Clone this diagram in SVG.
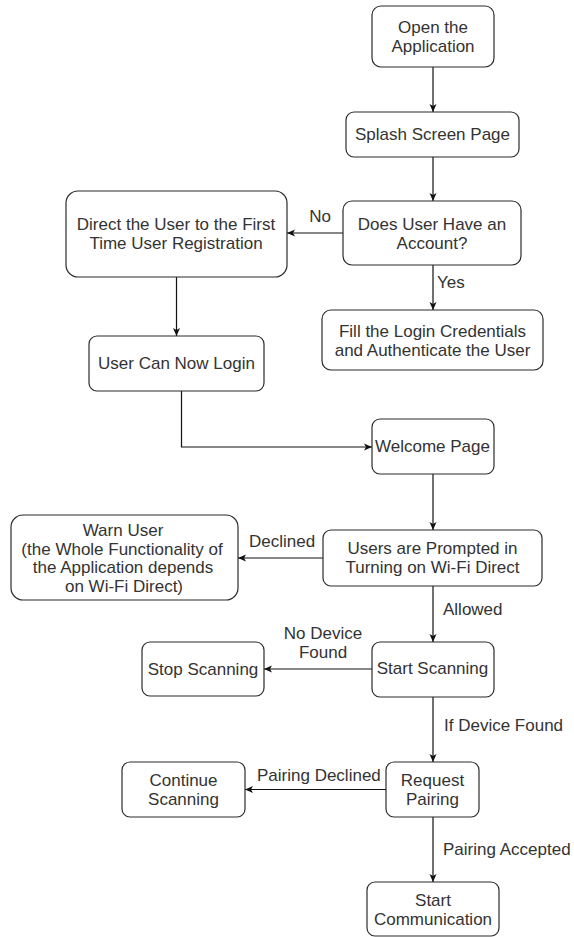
<svg xmlns="http://www.w3.org/2000/svg" width="574" height="937" viewBox="0 0 574 937">
  <style>
    .box { fill: #ffffff; stroke: #2b2b2b; stroke-width: 1.2; }
    .t { font-family: "Liberation Sans", Arial, sans-serif; font-size: 17px; fill: #333333; text-anchor: middle; }
    .lbl { font-family: "Liberation Sans", Arial, sans-serif; font-size: 17px; fill: #333333; }
    .edge { fill: none; stroke: #111111; stroke-width: 1.2; marker-end: url(#arrow); }
  </style>
  <defs>
    <marker id="arrow" viewBox="0 0 8 8" refX="8" refY="4" markerWidth="8" markerHeight="8" markerUnits="userSpaceOnUse" orient="auto">
      <path d="M0,0.5 L8,4 L0,7.5 L2,4 z" fill="#111111"/>
    </marker>
  </defs>
  <rect width="574" height="937" fill="#ffffff"/>

  <!-- connectors -->
  <g id="connectors">
    <path class="edge" d="M433,67 V112"/>
    <path class="edge" d="M433,157 V201"/>
    <path class="edge" d="M343,233 H287"/>
    <path class="edge" d="M433,265 V310"/>
    <path class="edge" d="M176.5,277 V336"/>
    <path class="edge" d="M181.5,391 V447 H372"/>
    <path class="edge" d="M433,474 V530"/>
    <path class="edge" d="M323,558 H238"/>
    <path class="edge" d="M433,586 V642"/>
    <path class="edge" d="M372,669 H264"/>
    <path class="edge" d="M433,697 V762"/>
    <path class="edge" d="M386,789.5 H245"/>
    <path class="edge" d="M433,817 V882"/>
    <!-- connector labels -->
    <text class="lbl" x="320" y="222" text-anchor="middle">No</text>
    <text class="lbl" x="437" y="288">Yes</text>
    <text class="lbl" x="249" y="547">Declined</text>
    <text class="lbl" x="443" y="615">Allowed</text>
    <text class="lbl" x="323" y="639" text-anchor="middle">No Device</text>
    <text class="lbl" x="323" y="658" text-anchor="middle">Found</text>
    <text class="lbl" x="444" y="731">If Device Found</text>
    <text class="lbl" x="257" y="781">Pairing Declined</text>
    <text class="lbl" x="443" y="855">Pairing Accepted</text>
  </g>

  <g id="open-app">
    <rect class="box" x="372" y="6" width="122" height="61" rx="9"/>
    <text class="t" x="433" y="33">Open the</text>
    <text class="t" x="433" y="52">Application</text>
  </g>
  <g id="splash">
    <rect class="box" x="346" y="112" width="173" height="45" rx="8"/>
    <text class="t" x="432.5" y="140">Splash Screen Page</text>
  </g>
  <g id="has-account">
    <rect class="box" x="343" y="201" width="178" height="64" rx="9"/>
    <text class="t" x="432" y="230">Does User Have an</text>
    <text class="t" x="432" y="249">Account?</text>
  </g>
  <g id="registration">
    <rect class="box" x="66" y="191" width="221" height="86" rx="12"/>
    <text class="t" x="176" y="230">Direct the User to the First</text>
    <text class="t" x="176" y="249">Time User Registration</text>
  </g>
  <g id="can-login">
    <rect class="box" x="89" y="336" width="175" height="55" rx="8"/>
    <text class="t" x="176.5" y="369">User Can Now Login</text>
  </g>
  <g id="login">
    <rect class="box" x="322" y="310" width="221" height="60" rx="9"/>
    <text class="t" x="432.5" y="337">Fill the Login Credentials</text>
    <text class="t" x="432.5" y="356">and Authenticate the User</text>
  </g>
  <g id="welcome">
    <rect class="box" x="372" y="419" width="122" height="55" rx="8"/>
    <text class="t" x="432.5" y="452">Welcome Page</text>
  </g>
  <g id="wifi-prompt">
    <rect class="box" x="323" y="530" width="219" height="56" rx="8"/>
    <text class="t" x="432.5" y="554">Users are Prompted in</text>
    <text class="t" x="432.5" y="573">Turning on Wi-Fi Direct</text>
  </g>
  <g id="warn">
    <rect class="box" x="11" y="515" width="227" height="85" rx="12"/>
    <text class="t" x="123" y="536">Warn User</text>
    <text class="t" x="122" y="554.5">(the Whole Functionality of</text>
    <text class="t" x="123" y="573">the Application depends</text>
    <text class="t" x="124" y="592">on Wi-Fi Direct)</text>
  </g>
  <g id="start-scan">
    <rect class="box" x="372" y="642" width="122" height="55" rx="8"/>
    <text class="t" x="432.5" y="674">Start Scanning</text>
  </g>
  <g id="stop-scan">
    <rect class="box" x="142" y="642" width="122" height="54" rx="8"/>
    <text class="t" x="203" y="674.5">Stop Scanning</text>
  </g>
  <g id="request-pairing">
    <rect class="box" x="386" y="762" width="93" height="55" rx="8"/>
    <text class="t" x="432.5" y="785.5">Request</text>
    <text class="t" x="432.5" y="805">Pairing</text>
  </g>
  <g id="continue-scan">
    <rect class="box" x="122" y="762" width="123" height="55" rx="8"/>
    <text class="t" x="183.5" y="785.5">Continue</text>
    <text class="t" x="183.5" y="805">Scanning</text>
  </g>
  <g id="start-comm">
    <rect class="box" x="367" y="882" width="132" height="54" rx="8"/>
    <text class="t" x="433" y="906">Start</text>
    <text class="t" x="433" y="924.5">Communication</text>
  </g>
</svg>
